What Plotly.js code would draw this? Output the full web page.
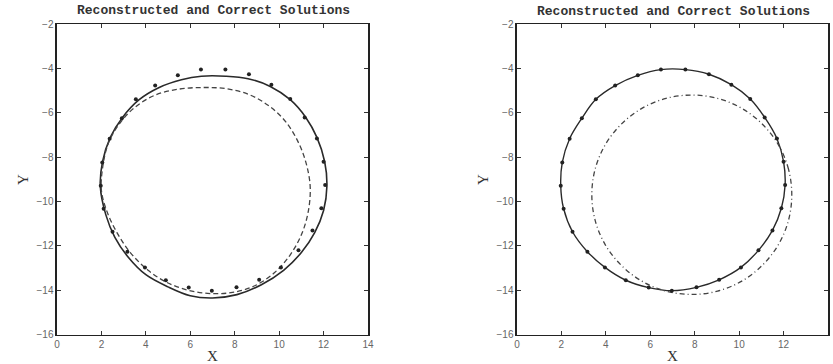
<!DOCTYPE html>
<html>
<head>
<meta charset="utf-8">
<script src="https://cdn.plot.ly/plotly-3.0.1.min.js"></script>
<style>html,body{margin:0;padding:0;background:#fff;}#chart{width:833px;height:364px;}</style>
</head>
<body>
<div id="chart"></div>
<script>
// Sampled points of the correct solution (markers, both panels)
const dotX = [12.07, 12.0, 11.7, 11.15, 10.5, 9.65, 8.64, 7.58, 6.48, 5.44, 4.42, 3.55, 2.92, 2.37, 2.04, 1.97, 2.1, 2.5, 3.17, 3.96, 4.9, 5.93, 6.97, 8.08, 9.1, 10.08, 10.87, 11.5, 11.9];
const dotY = [-9.25, -8.2, -7.15, -6.2, -5.37, -4.72, -4.25, -4.04, -4.04, -4.3, -4.76, -5.38, -6.24, -7.16, -8.23, -9.28, -10.32, -11.36, -12.26, -12.97, -13.55, -13.88, -14.02, -13.87, -13.53, -12.97, -12.2, -11.3, -10.3];

// Left panel: reconstructed curve (solid, outer)
const leftSolidX = [1.95, 2.05, 2.4, 2.95, 3.7, 4.6, 5.6, 6.5, 7.6, 8.6, 9.6, 10.5, 11.2, 11.7, 12.05, 12.15, 12.0, 11.6, 11.0, 10.2, 9.2, 8.1, 7.0, 6.0, 5.0, 4.0, 3.2, 2.6, 2.2, 1.95];
const leftSolidY = [-9.3, -8.2, -7.1, -6.2, -5.4, -4.85, -4.5, -4.34, -4.34, -4.45, -4.8, -5.4, -6.2, -7.1, -8.2, -9.3, -10.4, -11.4, -12.3, -13.1, -13.75, -14.2, -14.35, -14.25, -13.85, -13.3, -12.5, -11.6, -10.6, -9.3];

// Left panel: second curve (dashed, inner)
const leftDashX = [2.0, 2.05, 2.3, 2.8, 3.5, 4.4, 5.5, 6.6, 7.6, 8.6, 9.5, 10.3, 10.9, 11.25, 11.4, 11.3, 11.0, 10.5, 9.8, 8.9, 7.9, 6.9, 5.9, 4.95, 4.1, 3.3, 2.7, 2.25, 2.0];
const leftDashY = [-9.5, -8.5, -7.4, -6.5, -5.75, -5.2, -4.92, -4.85, -4.9, -5.15, -5.65, -6.4, -7.4, -8.4, -9.4, -10.5, -11.5, -12.4, -13.2, -13.8, -14.1, -14.15, -14.0, -13.65, -13.1, -12.3, -11.4, -10.45, -9.5];

// Right panel: dash-dot curve (offset circle)
const rightDashX = [12.37, 12.22, 11.77, 11.05, 10.12, 9.03, 7.87, 6.71, 5.62, 4.69, 3.97, 3.52, 3.37, 3.52, 3.97, 4.69, 5.62, 6.71, 7.87, 9.03, 10.12, 11.05, 11.77, 12.22, 12.37];
const rightDashY = [-9.69, -8.53, -7.44, -6.51, -5.79, -5.34, -5.19, -5.34, -5.79, -6.51, -7.44, -8.53, -9.69, -10.85, -11.94, -12.87, -13.59, -14.04, -14.19, -14.04, -13.59, -12.87, -11.94, -10.85, -9.69];

const xTicks = [0, 2, 4, 6, 8, 10, 12, 14];
const yTicks = [-2, -4, -6, -8, -10, -12, -14, -16];
const titleText = 'Reconstructed and Correct Solutions';

const closed = a => a.concat([a[0]]);
const lineCol = '#2a2a2a';

const traces = [
  {x: leftSolidX, y: leftSolidY, xaxis: 'x', yaxis: 'y', mode: 'lines', line: {color: lineCol, width: 1.6, shape: 'spline'}},
  {x: leftDashX, y: leftDashY, xaxis: 'x', yaxis: 'y', mode: 'lines', line: {color: '#444', width: 1.3, dash: '5px,3px', shape: 'spline'}},
  {x: dotX, y: dotY, xaxis: 'x', yaxis: 'y', mode: 'markers', marker: {color: '#222', size: 4}},
  {x: closed(dotX), y: closed(dotY), xaxis: 'x2', yaxis: 'y2', mode: 'lines', line: {color: lineCol, width: 1.4, shape: 'spline'}},
  {x: rightDashX, y: rightDashY, xaxis: 'x2', yaxis: 'y2', mode: 'lines', line: {color: '#444', width: 1.3, dash: '5px,3px,1px,3px', shape: 'spline'}},
  {x: dotX, y: dotY, xaxis: 'x2', yaxis: 'y2', mode: 'markers', marker: {color: '#222', size: 4}}
];

function xAxis(dom, anchor) {
  return {domain: dom, anchor: anchor, range: [0, 14], tickvals: xTicks, ticktext: xTicks.map(String),
    ticks: 'inside', ticklen: 4, tickcolor: '#333', showline: true, mirror: 'ticks', linecolor: '#222', linewidth: 1.5,
    showgrid: false, zeroline: false, tickfont: {family: 'Liberation Sans, Arial, sans-serif', size: 10, color: '#666'},
    title: {text: 'X', font: {family: 'Liberation Serif, Times New Roman, serif', size: 15, color: '#333'}, standoff: 2}};
}
function yAxis(anchor) {
  return {domain: [0.081, 0.933], anchor: anchor, range: [-16, -2], tickvals: yTicks, ticktext: yTicks.map(v => '\u2212' + Math.abs(v)),
    ticks: 'inside', ticklen: 4, tickcolor: '#333', showline: true, mirror: 'ticks', linecolor: '#222', linewidth: 1.5,
    showgrid: false, zeroline: false, tickfont: {family: 'Liberation Sans, Arial, sans-serif', size: 10, color: '#666'},
    title: {text: 'Y', font: {family: 'Liberation Serif, Times New Roman, serif', size: 15, color: '#333'}, standoff: 4}};
}

const layout = {
  width: 833, height: 364,
  margin: {l: 0, r: 0, t: 0, b: 0},
  paper_bgcolor: '#fff', plot_bgcolor: '#fff',
  showlegend: false,
  xaxis: xAxis([0.0684, 0.4418], 'y'),
  yaxis: yAxis('x'),
  xaxis2: xAxis([0.6206, 0.994], 'y2'),
  yaxis2: yAxis('x2'),
  annotations: [
    {text: titleText, xref: 'paper', yref: 'paper', x: 213.5 / 833, y: 1 - 10 / 364, xanchor: 'center', yanchor: 'middle', showarrow: false,
     font: {family: 'Liberation Mono, Courier New, monospace', size: 13, color: '#333', weight: 'bold'}},
    {text: titleText, xref: 'paper', yref: 'paper', x: 673 / 833, y: 1 - 12 / 364, xanchor: 'center', yanchor: 'middle', showarrow: false,
     font: {family: 'Liberation Mono, Courier New, monospace', size: 13, color: '#333', weight: 'bold'}}
  ]
};

Plotly.newPlot('chart', traces, layout, {displayModeBar: false, staticPlot: true});
</script>
</body>
</html>
